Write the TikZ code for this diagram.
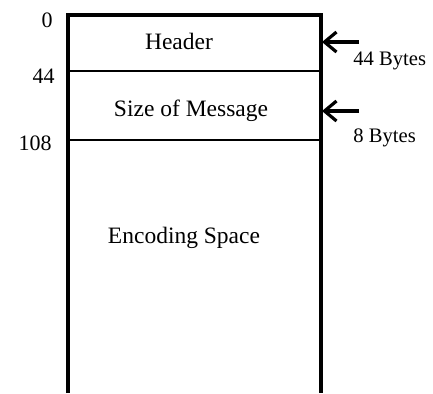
\documentclass[tikz,border=0pt]{standalone}
\usepackage{fontspec}
\setmainfont{Liberation Serif}
\usetikzlibrary{arrows.meta, positioning}
\tikzset{
  field/.style = {font=\fontsize{11.75}{14}\selectfont, inner sep=0pt},
  offs/.style  = {font=\fontsize{11}{13}\selectfont, inner sep=0pt, anchor=east},
  size/.style  = {font=\fontsize{10.3}{12}\selectfont, inner sep=0pt, anchor=west},
  wall/.style  = {line width=1.6pt},
  sep/.style   = {line width=1.2pt},
  arr/.style   = {-{Straight Barb[length=6pt, width=10pt, line width=1.6pt]},
                  line width=1.8pt},
}

\begin{document}
\begin{tikzpicture}[x=0.5pt, y=-0.5pt]
\useasboundingbox (0,0) rectangle (433,393);

%% ── frame (open at the bottom) ──────────────────────────────────────────────
\coordinate (TL) at (68,15);
\coordinate (TR) at (321,15);
\coordinate (BL) at (68,393);
\coordinate (BR) at (321,393);
\draw[wall] (BL) -- (TL) -- (TR) -- (BR);

\coordinate (s1L) at (68,71);
\coordinate (s1R) at (321,71);
\coordinate (s2L) at (68,140);
\coordinate (s2R) at (321,140);
\draw[sep] (s1L) -- (s1R);
\draw[sep] (s2L) -- (s2R);

%% ── fields ──────────────────────────────────────────────────────────────────
\node[field] (header) at (179,41)  {Header};
\node[field] (sizeMsg) at (191,111) {Size of Message};
\node[field] (encSpace) at (184,238) {Encoding Space};

%% ── offsets ─────────────────────────────────────────────────────────────────
\node[offs] (off0)   at (53,20)  {0};
\node[offs] (off44)  at (55,76)  {44};
\node[offs] (off108) at (52,143) {108};

%% ── sizes ───────────────────────────────────────────────────────────────────
\coordinate (hdrEdge) at (322,42);
\coordinate (msgEdge) at (322,111);
\coordinate (hdrTail) at (359,42);
\coordinate (msgTail) at (359,111);
\draw[arr] (hdrTail) -- (hdrEdge);
\draw[arr] (msgTail) -- (msgEdge);

\node[size] (hdrSize) at (353,61)  {44 Bytes};
\node[size] (msgSize) at (353,138) {8 Bytes};

\end{tikzpicture}
\end{document}
